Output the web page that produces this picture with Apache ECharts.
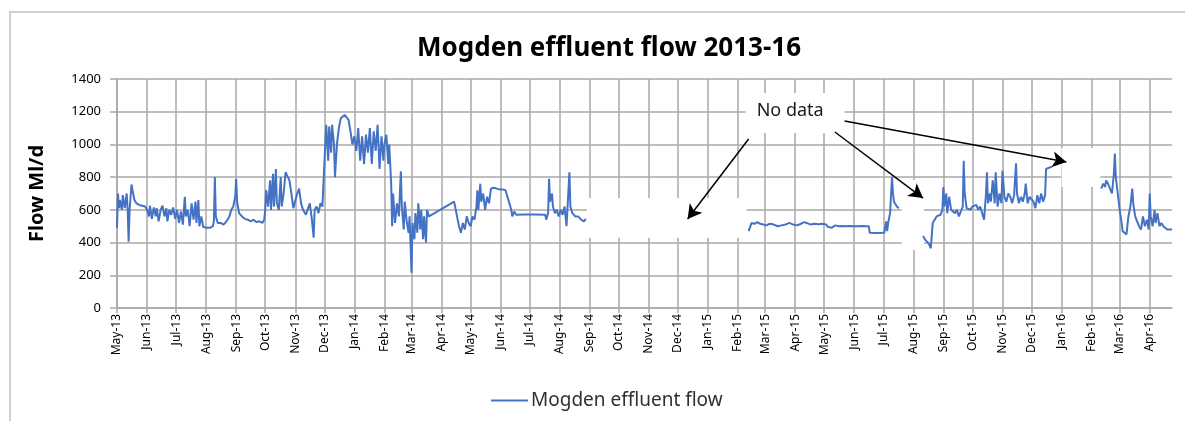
<!DOCTYPE html>
<html lang="en">

<head>
  <meta charset="UTF-8" />
  <title>Mogden effluent flow 2013-16</title>
  <script src="https://cdn.jsdelivr.net/npm/echarts@6/dist/echarts.min.js"></script>
  <style>
    body,
    html {
      margin: 0;
      padding: 0;
      width: 100%;
      height: 100%;
      overflow: hidden;
      background: #fff;
    }

    #chart {
      width: 1185px;
      height: 421px;
    }
  </style>
</head>

<body>
  <div id="chart"></div>
</body>
<script>
  // daily flow (Ml/d): [month, [[day, value], ...]]
  // a null value marks the "no data" breaks
  var flowByMonth = [
    ['2013-05', [[1, 490], [2, 700], [3, 610], [4, 660], [6, 600], [7, 690], [9, 610], [11, 700], [12, 600], [13, 405], [14, 600], [16, 755], [17, 720], [19, 660], [21, 640], [24, 630], [27, 625], [30, 620]]],
    ['2013-06', [[1, 600], [3, 560], [4, 625], [6, 545], [8, 615], [10, 560], [11, 610], [13, 530], [15, 600], [17, 625], [19, 560], [21, 610], [22, 530], [24, 600], [26, 570], [28, 615], [30, 545]]],
    ['2013-07', [[2, 600], [4, 520], [6, 590], [8, 510], [10, 680], [11, 560], [13, 600], [15, 500], [17, 640], [19, 540], [21, 650], [22, 520], [24, 660], [25, 500], [27, 560], [29, 495], [31, 500]]],
    ['2013-08', [[2, 490], [5, 490], [8, 500], [9, 530], [10, 800], [11, 560], [13, 520], [16, 520], [19, 510], [22, 530], [25, 560], [27, 600], [29, 620], [31, 680]]],
    ['2013-09', [[1, 790], [2, 650], [4, 580], [7, 560], [10, 545], [13, 540], [16, 530], [19, 540], [22, 525], [25, 530], [28, 520], [30, 540]]],
    ['2013-10', [[1, 600], [2, 720], [4, 620], [6, 780], [7, 600], [9, 820], [10, 620], [12, 850], [13, 640], [15, 600], [17, 800], [18, 620], [20, 700], [22, 830], [24, 840], [26, 780], [28, 700], [30, 610]]],
    ['2013-11', [[1, 600], [3, 700], [5, 730], [7, 640], [9, 600], [12, 570], [16, 640], [18, 550], [20, 430], [21, 600], [23, 620], [25, 580], [27, 640], [29, 620]]],
    ['2013-12', [[1, 630], [2, 1000], [3, 1120], [5, 900], [6, 1110], [8, 950], [9, 1120], [11, 1000], [12, 800], [14, 1000], [16, 1100], [18, 1160], [20, 1170], [22, 1180], [24, 1170], [26, 1150], [28, 1080], [30, 1000]]],
    ['2014-01', [[1, 1050], [3, 960], [5, 1100], [7, 900], [9, 1050], [11, 880], [13, 1060], [15, 950], [17, 1100], [19, 880], [21, 1080], [23, 960], [25, 1120], [27, 850], [29, 1050], [31, 900]]],
    ['2014-02', [[1, 1000], [3, 1060], [5, 880], [6, 1000], [8, 760], [9, 500], [10, 700], [12, 520], [14, 640], [16, 560], [17, 700], [18, 835], [19, 620], [21, 480], [22, 650], [24, 530], [26, 460], [27, 560]]],
    ['2014-03', [[1, 215], [2, 520], [4, 420], [5, 580], [7, 460], [8, 640], [10, 480], [11, 600], [13, 420], [14, 560], [16, 400], [17, 600], [19, 560]]],
    ['2014-04', [[14, 650], [17, 560], [19, 500], [21, 460], [23, 520], [25, 480], [27, 560], [29, 520]]],
    ['2014-05', [[1, 500], [3, 560], [5, 540], [7, 620], [8, 720], [9, 600], [11, 760], [12, 650], [14, 700], [16, 600], [18, 680], [20, 640], [22, 730], [25, 735], [28, 730], [31, 725]]],
    ['2014-06', [[3, 725], [6, 720], [8, 680], [10, 640], [12, 600], [13, 560], [15, 590], [17, 570], [25, 572]]],
    ['2014-07', [[5, 572], [17, 570], [18, 540], [20, 580], [21, 790], [22, 650], [24, 700], [25, 620], [27, 580], [29, 600], [31, 560]]],
    ['2014-08', [[2, 600], [4, 570], [6, 620], [8, 500], [11, 830], [12, 620], [14, 580], [17, 560], [20, 560], [23, 540], [26, 530], [28, 545]]],
    ['2014-11', [[1, null]]],
    ['2015-02', [[12, 470], [15, 520], [18, 515], [21, 525], [24, 515], [27, 510]]],
    ['2015-03', [[2, 505], [6, 515], [10, 510], [14, 500], [18, 505], [22, 510], [26, 520], [30, 510]]],
    ['2015-04', [[3, 505], [7, 515], [10, 525], [13, 520], [17, 510], [21, 515], [25, 512], [29, 515]]],
    ['2015-05', [[3, 510], [5, 495], [7, 505], [9, 490], [12, 505], [16, 500], [20, 502], [24, 500], [28, 502]]],
    ['2015-06', [[1, 500], [5, 500], [9, 502], [13, 500], [16, 500], [17, 460], [24, 458]]],
    ['2015-07', [[2, 460], [3, 470], [4, 530], [5, 470], [6, 520], [8, 580], [10, 800], [11, 700], [12, 650], [15, 620], [17, 610], [30, null]]],
    ['2015-08', [[11, 440], [13, 420], [16, 400], [18, 380], [19, 365], [21, 520], [23, 540], [25, 560], [27, 560], [29, 570], [31, 600]]],
    ['2015-09', [[1, 740], [2, 620], [4, 700], [5, 580], [7, 680], [9, 600], [11, 590], [13, 580], [15, 600], [17, 560], [19, 590], [21, 620], [22, 900], [23, 700], [25, 610], [27, 620], [29, 600]]],
    ['2015-10', [[1, 620], [3, 610], [5, 630], [7, 600], [9, 620], [11, 610], [13, 540], [15, 700], [16, 830], [17, 640], [19, 700], [20, 650], [22, 780], [24, 640], [25, 830], [27, 620], [29, 700], [31, 640]]],
    ['2015-11', [[1, 840], [3, 680], [5, 650], [7, 700], [9, 680], [11, 640], [13, 690], [15, 885], [16, 700], [18, 640], [20, 680], [22, 650], [24, 700], [25, 760], [27, 640], [29, 680]]],
    ['2015-12', [[1, 680], [3, 650], [5, 610], [7, 690], [9, 640], [11, 700], [13, 650], [15, 690], [16, 850], [18, 855], [20, 860], [22, 862]]],
    ['2016-01', [[15, null]]],
    ['2016-02', [[11, 730], [13, 760], [15, 740], [16, 780], [18, 760], [20, 770], [22, 700], [24, 820], [25, 945], [26, 800], [28, 700]]],
    ['2016-03', [[1, 600], [3, 520], [4, 470], [6, 480], [8, 450], [10, 560], [12, 620], [14, 730], [15, 640], [17, 560], [19, 530], [21, 500], [23, 480], [25, 560], [27, 500], [29, 540], [31, 480]]],
    ['2016-04', [[1, 700], [2, 560], [4, 500], [6, 600], [7, 520], [9, 580], [11, 500], [13, 520], [15, 500], [17, 510], [19, 480], [21, 485], [24, 480]]]
  ];

  var monthNames = ['Jan', 'Feb', 'Mar', 'Apr', 'May', 'Jun', 'Jul', 'Aug', 'Sep', 'Oct', 'Nov', 'Dec'];
  var yTicks = [0, 200, 400, 600, 800, 1000, 1200, 1400];

  // white boxes drawn over the missing stretches: [from, to, low, high]
  var noDataBoxes = [
    ['2014-08-29', '2015-02-10', 430, 672],
    ['2015-07-20', '2015-08-12', 355, 782],
    ['2016-01-01', '2016-02-10', 740, 978]
  ];
  var noDataLabel = ['2015-02-09', '2015-05-22', 1070, 1314];
  // arrows from the label to the gaps: [fromDate, fromVal, toDate, toVal]
  var arrows = [
    ['2015-02-12', 1033, '2014-12-11', 544],
    ['2015-05-12', 1076, '2015-08-11', 672],
    ['2015-05-22', 1143, '2016-01-06', 893]
  ];

  function pad(n) {
    return n < 10 ? '0' + n : '' + n;
  }

  // date string -> local timestamp
  function t(s) {
    var p = s.split('-');
    return new Date(+p[0], +p[1] - 1, +p[2]).getTime();
  }

  var flowData = [];
  flowByMonth.forEach(function (m) {
    m[1].forEach(function (p) {
      flowData.push([t(m[0] + '-' + pad(p[0])), p[1]]);
    });
  });

  var tickMonths = [];
  for (var i = 0; i < 36; i++) {
    tickMonths.push(new Date(2013, 4 + i, 1).getTime());
  }

  var gridColor = '#a9a9a9';
  var font = 'Noto Sans';

  var myChart = echarts.init(document.getElementById('chart'));
  var option = {
    backgroundColor: '#ffffff',
    animation: false,
    title: {
      text: 'Mogden effluent flow 2013-16',
      left: 412,
      top: 31,
      textStyle: {
        fontFamily: font,
        fontSize: 26,
        fontWeight: 'bold',
        color: '#000'
      }
    },
    graphic: [{
      type: 'rect',
      shape: { x: 10, y: 12, width: 1200, height: 440 },
      style: { fill: 'none', stroke: '#cfcfcf', lineWidth: 2 },
      silent: true
    }],
    legend: {
      data: ['Mogden effluent flow'],
      left: 486,
      top: 386,
      icon: 'rect',
      itemWidth: 37,
      itemHeight: 2,
      itemGap: 10,
      textStyle: { fontFamily: font, fontSize: 19, color: '#303030', padding: [0, 0, 0, -2] }
    },
    grid: {
      left: 117,
      right: 13,
      top: 79,
      bottom: 113,
      containLabel: false
    },
    xAxis: {
      type: 'value',
      min: tickMonths[0],
      max: t('2016-04-24'),
      axisLine: { lineStyle: { color: gridColor, width: 1.5 } },
      axisTick: {
        customValues: tickMonths,
        length: 5,
        lineStyle: { color: gridColor, width: 1.5 }
      },
      splitLine: {
        show: true,
        lineStyle: { color: gridColor, width: 1.5 }
      },
      axisLabel: {
        customValues: tickMonths,
        rotate: 90,
        margin: 6,
        fontFamily: font,
        fontSize: 12,
        color: '#000',
        formatter: function (v) {
          var d = new Date(v);
          return monthNames[d.getMonth()] + '-' + String(d.getFullYear()).slice(2);
        }
      }
    },
    yAxis: {
      type: 'value',
      min: yTicks[0],
      max: yTicks[yTicks.length - 1],
      interval: 200,
      name: 'Flow Ml/d',
      nameLocation: 'middle',
      nameGap: 70,
      nameTextStyle: { fontFamily: font, fontSize: 20, fontWeight: 'bold', color: '#000' },
      axisLine: { show: true, lineStyle: { color: gridColor, width: 1.5 } },
      axisTick: { show: true, length: 7, lineStyle: { color: gridColor, width: 1.5 } },
      splitLine: { lineStyle: { color: gridColor, width: 1.5 } },
      axisLabel: {
        margin: 16,
        fontFamily: font,
        fontSize: 13,
        color: '#000',
        formatter: function (v) {
          return String(v);
        }
      }
    },
    series: [{
      name: 'Mogden effluent flow',
      type: 'line',
      symbol: 'none',
      connectNulls: false,
      lineStyle: { color: '#4472c4', width: 2 },
      itemStyle: { color: '#4472c4' },
      data: flowData,
      markArea: {
        silent: true,
        itemStyle: { color: '#ffffff', opacity: 1 },
        label: { show: false },
        data: noDataBoxes.map(function (b) {
          return [{ xAxis: t(b[0]), yAxis: b[2] }, { xAxis: t(b[1]), yAxis: b[3] }];
        }).concat([[{
          xAxis: t(noDataLabel[0]),
          yAxis: noDataLabel[2],
          label: {
            show: true,
            position: 'inside',
            formatter: 'No data',
            fontFamily: font,
            fontSize: 18,
            color: '#1a1a1a',
            offset: [-5, -2]
          }
        }, { xAxis: t(noDataLabel[1]), yAxis: noDataLabel[3] }]])
      },
      markLine: {
        silent: true,
        symbol: ['none', 'arrow'],
        symbolSize: [12, 14],
        label: { show: false },
        lineStyle: { color: '#000', width: 1.5, type: 'solid' },
        data: arrows.map(function (a) {
          return [{ coord: [t(a[0]), a[1]] }, { coord: [t(a[2]), a[3]] }];
        })
      }
    }]
  };
  myChart.setOption(option);
</script>

</html>
